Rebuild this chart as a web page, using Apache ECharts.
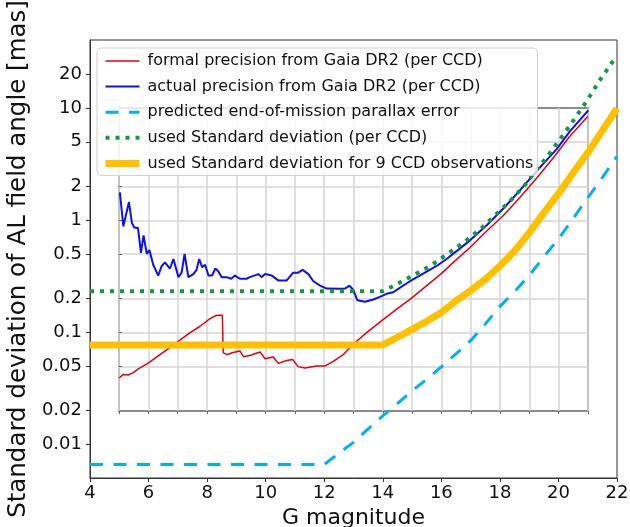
<!DOCTYPE html>
<html>
<head>
<meta charset="utf-8">
<script src="https://cdn.jsdelivr.net/npm/echarts@6.0.0/dist/echarts.min.js"></script>
<style>
  html, body { margin: 0; padding: 0; background: #fff; }
  #chart { width: 630px; height: 527px; }
</style>
</head>
<body>
<div id="chart"></div>
<script>
// G magnitude vs standard deviation [mas]
const formalX = [5.0, 5.14, 5.31, 5.48, 5.65, 5.99, 6.39, 6.73, 7.07, 7.42, 7.76, 8.1, 8.3, 8.44, 8.52, 8.55, 8.67, 8.89, 9.12, 9.24, 9.46, 9.81, 9.98, 10.26, 10.43, 10.72, 10.92, 11.11, 11.34, 11.74, 12.03, 12.31, 12.65, 12.99, 13.45, 14.02, 14.59, 14.93, 16.01, 16.41, 16.98, 17.55, 18.12, 18.69, 19.26, 19.82, 20.39, 21.0]
const formalY = [0.039, 0.042, 0.0415, 0.0436, 0.047, 0.053, 0.063, 0.073, 0.085, 0.099, 0.113, 0.132, 0.141, 0.142, 0.142, 0.0656, 0.063, 0.066, 0.068, 0.0605, 0.062, 0.0665, 0.058, 0.06, 0.0527, 0.056, 0.057, 0.0493, 0.048, 0.05, 0.05, 0.055, 0.063, 0.078, 0.099, 0.13, 0.169, 0.196, 0.335, 0.42, 0.57, 0.8, 1.1, 1.6, 2.38, 3.59, 5.6, 8.4]

const actualX = [5.02, 5.14, 5.33, 5.43, 5.51, 5.64, 5.74, 5.83, 5.94, 6.03, 6.16, 6.33, 6.45, 6.56, 6.73, 6.85, 7.02, 7.13, 7.23, 7.36, 7.53, 7.64, 7.73, 7.83, 7.93, 8.05, 8.17, 8.28, 8.38, 8.5, 8.67, 8.82, 8.95, 9.12, 9.35, 9.46, 9.75, 9.86, 9.98, 10.21, 10.43, 10.72, 10.94, 11.11, 11.26, 11.46, 11.63, 11.86, 12.08, 12.54, 12.71, 12.86, 12.99, 13.13, 13.39, 13.68, 13.96, 14.13, 14.36, 14.59, 14.93, 15.44, 15.84, 16.18, 16.64, 16.98, 17.55, 18.12, 18.69, 19.26, 19.94, 20.39, 21.02]
const actualY = [1.77, 0.88, 1.45, 0.95, 0.86, 0.85, 0.51, 0.73, 0.5, 0.54, 0.4, 0.32, 0.39, 0.42, 0.37, 0.45, 0.31, 0.34, 0.5, 0.31, 0.33, 0.36, 0.45, 0.38, 0.4, 0.32, 0.32, 0.37, 0.35, 0.31, 0.31, 0.3, 0.32, 0.3, 0.3, 0.31, 0.33, 0.31, 0.33, 0.32, 0.29, 0.29, 0.34, 0.34, 0.36, 0.33, 0.285, 0.26, 0.245, 0.244, 0.245, 0.26, 0.24, 0.193, 0.187, 0.196, 0.21, 0.22, 0.227, 0.25, 0.285, 0.34, 0.39, 0.45, 0.56, 0.66, 0.9, 1.27, 1.85, 2.75, 4.3, 6.2, 9.55]

const predictedX = [4, 12, 12.5, 13, 13.5, 14, 14.5, 15, 15.5, 16, 16.5, 17, 17.5, 18, 18.5, 19, 19.5, 20, 20.5, 21, 21.5, 22]
const predictedY = [0.0066, 0.0066, 0.0083, 0.0104, 0.0137, 0.0179, 0.023, 0.03, 0.038, 0.049, 0.064, 0.084, 0.118, 0.17, 0.23, 0.32, 0.47, 0.68, 1.03, 1.58, 2.4, 3.7]

const usedX = [4, 14, 14.36, 14.98, 15.61, 16.18, 16.75, 17.32, 17.83, 18.34, 18.86, 19.26, 19.71, 20.17, 20.53, 20.94, 21.43, 21.96]
const usedY = [0.232, 0.232, 0.258, 0.316, 0.388, 0.493, 0.628, 0.824, 1.1, 1.47, 2.07, 2.82, 3.98, 5.79, 7.9, 11.3, 18.0, 28.6]

const used9X = [4, 14, 14.5, 15, 15.5, 16, 16.5, 17, 17.5, 18, 18.5, 19, 19.5, 20, 20.5, 21, 21.5, 22]
const used9Y = [0.077, 0.077, 0.09, 0.106, 0.125, 0.15, 0.19, 0.235, 0.296, 0.39, 0.53, 0.77, 1.16, 1.72, 2.64, 3.98, 6.3, 9.9]

const seriesNames = [
  'formal precision from Gaia DR2 (per CCD)',
  'actual precision from Gaia DR2 (per CCD)',
  'predicted end-of-mission parallax error',
  'used Standard deviation (per CCD)',
  'used Standard deviation for 9 CCD observations',
]
const yTicks = [0.01, 0.02, 0.05, 0.1, 0.2, 0.5, 1, 2, 5, 10, 20]
const insetTicks = [0.05, 0.1, 0.2, 0.5, 1, 2, 5]

const font = 'DejaVu Sans'
const pairs = (xs, ys) => xs.map((x, i) => [x, ys[i]])

let myChart = echarts.init(document.getElementById('chart'))
let options = {
  animation: false,
  textStyle: { fontFamily: font },
  legend: {
    orient: 'vertical',
    left: 97,
    top: 48,
    padding: [5, 4, 4, 5],
    itemWidth: 34,
    itemHeight: 14,
    itemGap: 9.6,
    backgroundColor: 'rgba(255,255,255,0.8)',
    borderColor: '#d0d0d0',
    borderWidth: 1,
    borderRadius: 4,
    lineStyle: { width: 'inherit' },
    itemStyle: { opacity: 0 },
    textStyle: { fontFamily: font, fontSize: 16, color: '#111', padding: [0, 0, 0, 3] },
    data: seriesNames,
    z: 10,
  },
  grid: [
    {
      left: 90,
      right: 13,
      top: 40,
      bottom: 49,
      show: true,
      borderColor: '#333',
      borderWidth: 1,
      outerBoundsMode: 'none',
    },
    {
      // inset plot
      left: 119,
      right: 42,
      top: 108,
      bottom: 116,
      show: true,
      backgroundColor: '#fff',
      borderColor: '#8c8c8c',
      borderWidth: 2,
      outerBoundsMode: 'none',
    },
  ],
  xAxis: [
    {
      type: 'value',
      gridIndex: 0,
      min: 4,
      max: 22,
      interval: 2,
      name: 'G magnitude',
      nameLocation: 'middle',
      nameGap: 26,
      nameTextStyle: { fontFamily: font, fontSize: 22, color: '#111' },
      axisLine: { lineStyle: { color: '#333' } },
      axisTick: { length: 4, lineStyle: { color: '#333' } },
      axisLabel: { fontFamily: font, fontSize: 18, color: '#111', margin: 6 },
      splitLine: { show: false },
    },
    {
      type: 'value',
      gridIndex: 1,
      min: 5,
      max: 21,
      interval: 1,
      axisLine: { show: false },
      axisTick: { length: 3, lineStyle: { color: '#666' } },
      axisLabel: { show: false },
      splitLine: { lineStyle: { color: '#d4d4d4', width: 1.5 } },
    },
  ],
  yAxis: [
    {
      type: 'log',
      logBase: 10,
      gridIndex: 0,
      min: 0.005,
      max: 40.5,
      name: 'Standard deviation of AL field angle [mas]',
      nameLocation: 'middle',
      nameGap: 50,
      nameTextStyle: { fontFamily: font, fontSize: 24.5, color: '#111' },
      axisLine: { show: true, lineStyle: { color: '#333' } },
      axisTick: { show: true, length: 4, customValues: yTicks, lineStyle: { color: '#333' } },
      axisLabel: {
        fontFamily: font,
        fontSize: 18,
        color: '#111',
        margin: 8,
        customValues: yTicks,
        formatter: (v) => String(+(+v).toPrecision(3)),
      },
      splitLine: { show: false },
    },
    {
      type: 'log',
      logBase: 10,
      gridIndex: 1,
      min: 0.02,
      max: 10,
      axisLine: { show: false },
      axisTick: { show: true, inside: true, length: 3, customValues: insetTicks, lineStyle: { color: '#666' } },
      axisLabel: { show: false },
      splitLine: { show: true, lineStyle: { color: '#d4d4d4', width: 1.5 } },
    },
  ],
  series: [
    {
      name: seriesNames[0],
      type: 'line',
      symbol: 'none',
      data: pairs(formalX, formalY),
      lineStyle: { color: '#e00010', width: 1.5 },
      itemStyle: { color: '#e00010' },
    },
    {
      name: seriesNames[1],
      type: 'line',
      symbol: 'none',
      data: pairs(actualX, actualY),
      lineStyle: { color: '#0a10f0', width: 2 },
      itemStyle: { color: '#0a10f0' },
    },
    {
      name: seriesNames[2],
      type: 'line',
      symbol: 'none',
      data: pairs(predictedX, predictedY),
      lineStyle: { color: '#00b0f0', width: 3, type: [13, 10.5] },
      itemStyle: { color: '#00b0f0' },
    },
    {
      name: seriesNames[3],
      type: 'line',
      symbol: 'none',
      data: pairs(usedX, usedY),
      lineStyle: { color: '#16993c', width: 4, type: [4, 6] },
      itemStyle: { color: '#16993c' },
    },
    {
      name: seriesNames[4],
      type: 'line',
      symbol: 'none',
      data: pairs(used9X, used9Y),
      lineStyle: { color: '#ffc000', width: 7, join: 'round' },
      itemStyle: { color: '#ffc000' },
    },
  ],
}
myChart.setOption(options)
window.addEventListener('resize', () => {
  myChart.resize()
})
</script>
</body>
</html>
